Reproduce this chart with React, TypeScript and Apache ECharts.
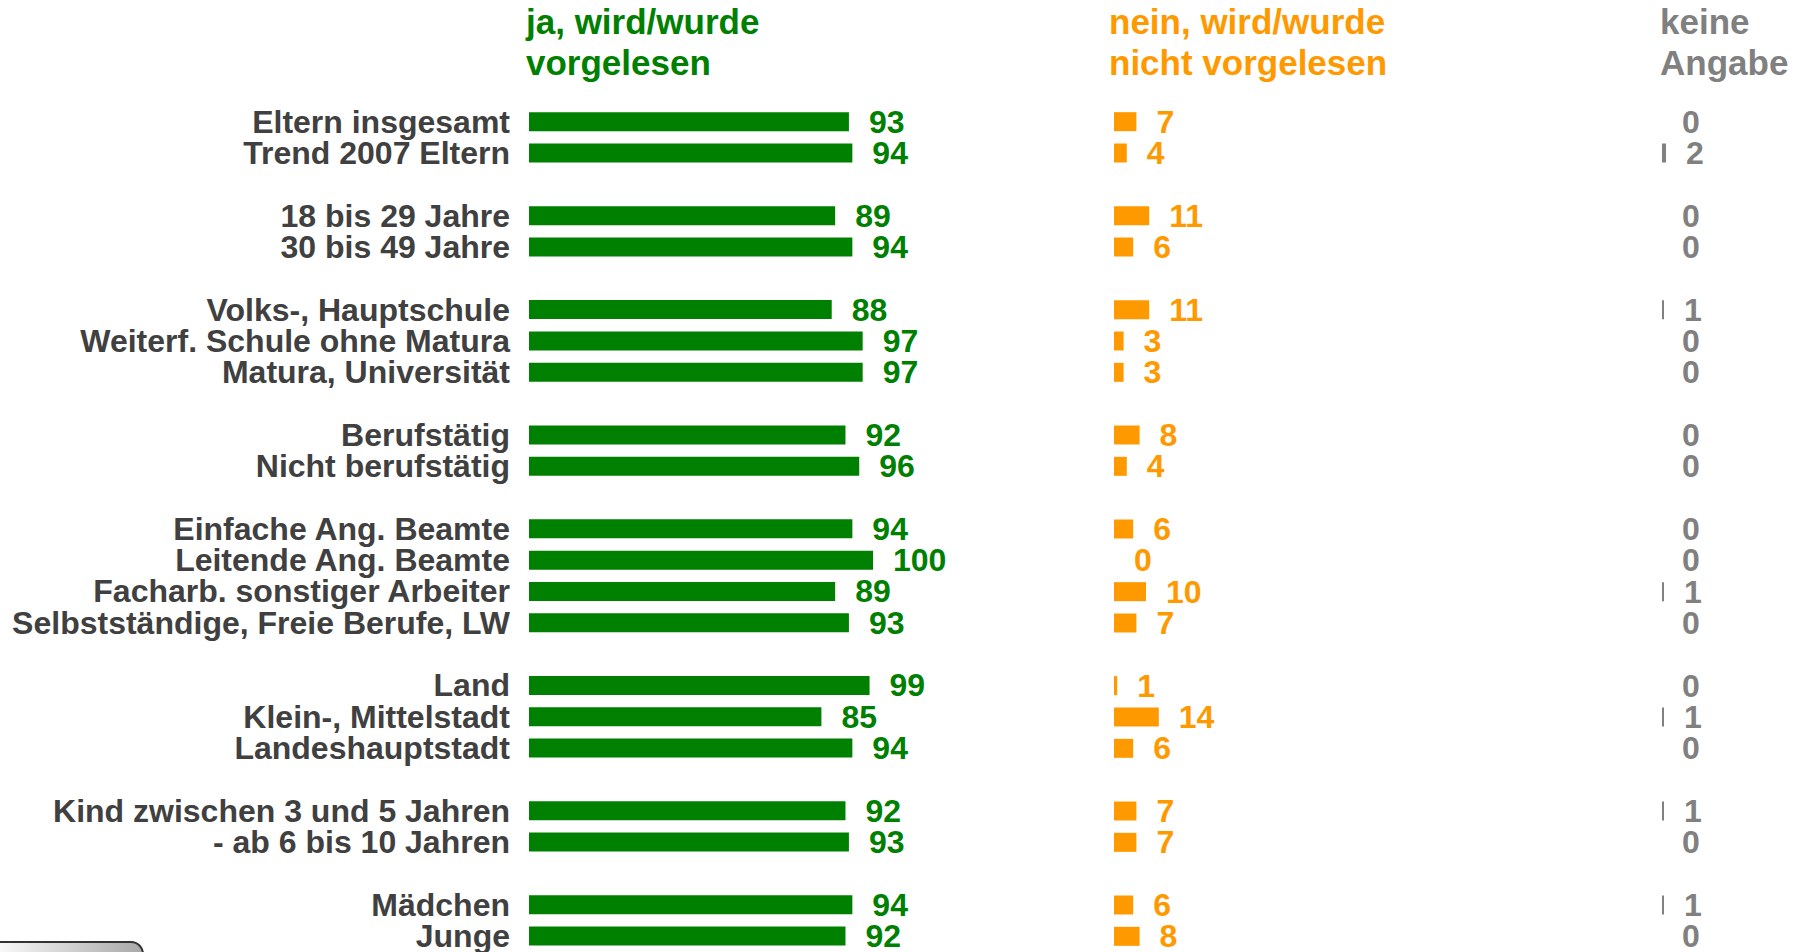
import React, { useEffect, useRef } from "react";
import * as echarts from "echarts";

const categories = [
  "Eltern insgesamt", "Trend 2007 Eltern", "",
  "18 bis 29 Jahre", "30 bis 49 Jahre", "",
  "Volks-, Hauptschule", "Weiterf. Schule ohne Matura", "Matura, Universität", "",
  "Berufstätig", "Nicht berufstätig", "",
  "Einfache Ang. Beamte", "Leitende Ang. Beamte", "Facharb. sonstiger Arbeiter", "Selbstständige, Freie Berufe, LW", "",
  "Land", "Klein-, Mittelstadt", "Landeshauptstadt", "",
  "Kind zwischen 3 und 5 Jahren", "- ab 6 bis 10 Jahren", "",
  "Mädchen", "Junge",
];

const jaValues = [93, 94, null, 89, 94, null, 88, 97, 97, null, 92, 96, null, 94, 100, 89, 93, null, 99, 85, 94, null, 92, 93, null, 94, 92];
const neinValues = [7, 4, null, 11, 6, null, 11, 3, 3, null, 8, 4, null, 6, 0, 10, 7, null, 1, 14, 6, null, 7, 7, null, 6, 8];
const keineValues = [0, 2, null, 0, 0, null, 1, 0, 0, null, 0, 0, null, 0, 0, 1, 0, null, 0, 1, 0, null, 1, 0, null, 1, 0];

const headers = [
  { text: "ja, wird/wurde\nvorgelesen", color: "#008000", x: 526 },
  { text: "nein, wird/wurde\nnicht vorgelesen", color: "#FF9900", x: 1109 },
  { text: "keine\nAngabe", color: "#808080", x: 1660 },
];

const FONT = "'Liberation Sans', Arial, sans-serif";

export default function App() {
  const ref = useRef<HTMLDivElement>(null);
  useEffect(() => {
    if (!ref.current) return;
    const chart = echarts.init(ref.current, null, { renderer: "svg" });
    const gridTop = 106;
    const gridH = 847;
    const label = (color: string) => ({
      show: true,
      position: "right",
      distance: 20,
      color,
      fontSize: 32,
      fontWeight: "bold",
      fontFamily: FONT,
    });
    const yAxisBase = {
      type: "category",
      data: categories,
      inverse: true,
      axisLine: { show: false },
      axisTick: { show: false },
      splitLine: { show: false },
    };
    const xAxisBase = {
      type: "value",
      min: 0,
      show: false,
      splitLine: { show: false },
    };
    chart.setOption({
      animation: false,
      backgroundColor: "#ffffff",
      grid: [
        { left: 529, top: gridTop, width: 344, height: gridH },
        { left: 1114, top: gridTop, width: 320, height: gridH },
        { left: 1662, top: gridTop, width: 100, height: gridH },
      ],
      xAxis: [
        { ...xAxisBase, gridIndex: 0, max: 100 },
        { ...xAxisBase, gridIndex: 1, max: 100 },
        { ...xAxisBase, gridIndex: 2, max: 50 },
      ],
      yAxis: [
        {
          ...yAxisBase,
          gridIndex: 0,
          axisLabel: {
            margin: 19,
            color: "#404040",
            fontSize: 32,
            fontWeight: "bold",
            fontFamily: FONT,
            interval: 0,
          },
        },
        { ...yAxisBase, gridIndex: 1, axisLabel: { show: false } },
        { ...yAxisBase, gridIndex: 2, axisLabel: { show: false } },
      ],
      series: [
        {
          type: "bar",
          xAxisIndex: 0,
          yAxisIndex: 0,
          data: jaValues,
          barWidth: 19,
          itemStyle: { color: "#008000" },
          label: label("#008000"),
        },
        {
          type: "bar",
          xAxisIndex: 1,
          yAxisIndex: 1,
          data: neinValues,
          barWidth: 19,
          itemStyle: { color: "#FF9900" },
          label: label("#FF9900"),
        },
        {
          type: "bar",
          xAxisIndex: 2,
          yAxisIndex: 2,
          data: keineValues,
          barWidth: 19,
          itemStyle: { color: "#808080" },
          label: label("#808080"),
        },
      ],
      graphic: [
        ...headers.map((h) => ({
          type: "text",
          left: h.x,
          top: 1,
          style: {
            text: h.text,
            fill: h.color,
            fontSize: 35,
            fontWeight: "bold",
            fontFamily: FONT,
            lineHeight: 41,
          },
        })),
        {
          type: "rect",
          shape: { x: -12, y: 942, width: 155, height: 40, r: 12 },
          style: {
            fill: new echarts.graphic.LinearGradient(0, 0, 1, 0, [
              { offset: 0, color: "#ffffff" },
              { offset: 1, color: "#a8a8a8" },
            ]),
            stroke: "#333333",
            lineWidth: 2,
          },
        },
      ],
    });
    return () => chart.dispose();
  }, []);
  return (
    <div
      ref={ref}
      style={{ position: "fixed", left: 0, top: 0, width: 1797, height: 952, background: "#fff" }}
    />
  );
}
